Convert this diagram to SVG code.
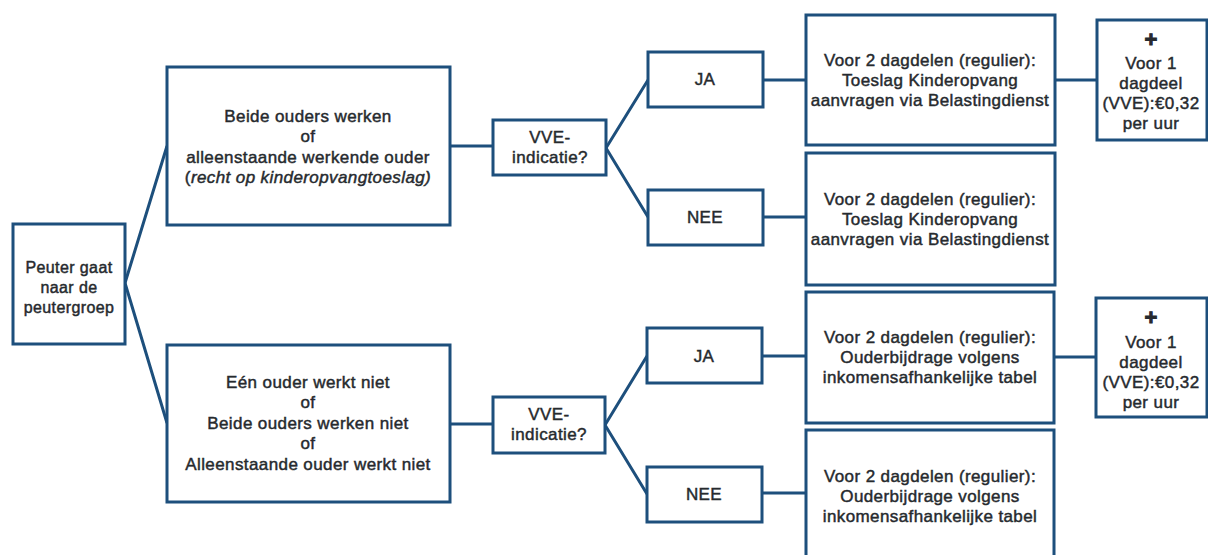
<svg xmlns="http://www.w3.org/2000/svg" width="1208" height="555" viewBox="0 0 1208 555">
<style>
.box{fill:#fff;stroke:#1d4f7c;stroke-width:3}
.ln{fill:none;stroke:#1d4f7c;stroke-width:3}
text{font-family:"Liberation Sans",Arial,sans-serif;font-size:17px;letter-spacing:0.4px;fill:#262a2e;stroke:#262a2e;stroke-width:0.45px;text-anchor:middle}
.sm{font-size:16px}
.it{font-style:italic}
.plus{font-weight:bold;font-size:22px;stroke-width:1px}
</style>
<rect width="1208" height="555" fill="#fff"/>
<g id="connectors">
<path class="ln" d="M125,283 L167,146 M125,283 L167,423"/>
<path class="ln" d="M450,146 H493 M450,424 H493"/>
<path class="ln" d="M606,148 L648,80 M606,148 L648,217"/>
<path class="ln" d="M605,425 L647,356 M605,425 L647,494"/>
<path class="ln" d="M763,80 H806 M763,217 H806 M762,356 H806 M762,493 H806"/>
<path class="ln" d="M1055,80 H1097 M1055,357 H1096"/>
</g>
<g id="n-peuter"><rect class="box" x="13" y="224" width="112" height="120"/>
<text class="sm" x="69" y="273">Peuter gaat</text><text class="sm" x="69" y="293">naar de</text><text class="sm" x="69" y="313">peutergroep</text></g>
<g id="n-werken"><rect class="box" x="167" y="67" width="283" height="158"/>
<text x="308" y="122">Beide ouders werken</text><text x="308" y="142">of</text><text x="308" y="163">alleenstaande werkende ouder</text><text x="308" y="183">(<tspan class="it">recht op kinderopvangtoeslag)</tspan></text></g>
<g id="n-nietwerken"><rect class="box" x="167" y="345" width="283" height="157"/>
<text x="308" y="388">Eén ouder werkt niet</text><text x="308" y="408">of</text><text x="308" y="429">Beide ouders werken niet</text><text x="308" y="449">of</text><text x="308" y="470">Alleenstaande ouder werkt niet</text></g>
<g id="n-vve1"><rect class="box" x="493" y="120" width="113" height="55"/>
<text x="550" y="143">VVE-</text><text x="550" y="163">indicatie?</text></g>
<g id="n-vve2"><rect class="box" x="493" y="397" width="112" height="56"/>
<text x="549" y="420">VVE-</text><text x="549" y="440">indicatie?</text></g>
<g id="n-ja1"><rect class="box" x="648" y="52" width="115" height="55"/><text x="705" y="85">JA</text></g>
<g id="n-nee1"><rect class="box" x="648" y="190" width="115" height="55"/><text x="705" y="223">NEE</text></g>
<g id="n-ja2"><rect class="box" x="647" y="328" width="115" height="55"/><text x="704" y="362">JA</text></g>
<g id="n-nee2"><rect class="box" x="647" y="467" width="115" height="55"/><text x="704" y="500">NEE</text></g>
<g id="n-r1"><rect class="box" x="806" y="15" width="249" height="130"/>
<text x="930" y="66">Voor 2 dagdelen (regulier):</text><text x="930" y="86">Toeslag Kinderopvang</text><text x="930" y="106">aanvragen via Belastingdienst</text></g>
<g id="n-r2"><rect class="box" x="806" y="153" width="249" height="132"/>
<text x="930" y="205">Voor 2 dagdelen (regulier):</text><text x="930" y="225">Toeslag Kinderopvang</text><text x="930" y="245">aanvragen via Belastingdienst</text></g>
<g id="n-r3"><rect class="box" x="806" y="292" width="248" height="131"/>
<text x="930" y="343">Voor 2 dagdelen (regulier):</text><text x="930" y="363">Ouderbijdrage volgens</text><text x="930" y="383">inkomensafhankelijke tabel</text></g>
<g id="n-r4"><rect class="box" x="806" y="430" width="248" height="140"/>
<text x="930" y="482">Voor 2 dagdelen (regulier):</text><text x="930" y="502">Ouderbijdrage volgens</text><text x="930" y="522">inkomensafhankelijke tabel</text></g>
<g id="n-p1"><rect class="box" x="1097" y="20" width="110" height="120"/>
<text class="plus" x="1151" y="47">+</text><text x="1151" y="69">Voor 1</text><text x="1151" y="89">dagdeel</text><text x="1151" y="109">(VVE):€0,32</text><text x="1151" y="129">per uur</text></g>
<g id="n-p2"><rect class="box" x="1096" y="298" width="111" height="119"/>
<text class="plus" x="1151" y="325">+</text><text x="1151" y="348">Voor 1</text><text x="1151" y="368">dagdeel</text><text x="1151" y="388">(VVE):€0,32</text><text x="1151" y="408">per uur</text></g>
</svg>
